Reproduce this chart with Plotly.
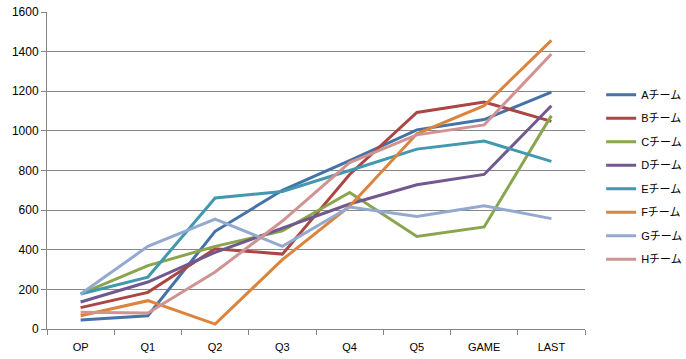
import plotly.graph_objects as go

categories = ["OP", "Q1", "Q2", "Q3", "Q4", "Q5", "GAME", "LAST"]
team_names = ["Aチーム", "Bチーム", "Cチーム", "Dチーム", "Eチーム", "Fチーム", "Gチーム", "Hチーム"]

team_a = [45, 67, 493, 700, 850, 1005, 1057, 1196]
team_b = [108, 185, 405, 378, 780, 1093, 1146, 1048]
team_c = [177, 320, 417, 495, 689, 467, 515, 1077]
team_d = [136, 237, 387, 511, 631, 728, 780, 1127]
team_e = [177, 262, 661, 694, 800, 908, 949, 846]
team_f = [67, 143, 25, 350, 620, 985, 1127, 1457]
team_g = [177, 417, 555, 417, 616, 568, 622, 557]
team_h = [84, 81, 288, 545, 840, 980, 1030, 1388]

series = [team_a, team_b, team_c, team_d, team_e, team_f, team_g, team_h]
colors = ["#4572a7", "#aa4643", "#89a54e", "#71588f", "#4198af", "#db843d", "#93a9cf", "#d19392"]

fig = go.Figure()
for name, vals, col in zip(team_names, series, colors):
    fig.add_trace(go.Scatter(
        x=categories, y=vals, name=name, mode="lines",
        line=dict(color=col, width=3), legendgroup=name,
    ))

grid = "#868686"
fig.update_layout(
    width=686, height=359,
    margin=dict(l=47, r=101, t=12, b=30, autoexpand=False),
    paper_bgcolor="white", plot_bgcolor="white",
    font=dict(family="Liberation Sans, Noto Sans CJK JP", size=11, color="#000000"),
    showlegend=True,
    legend=dict(
        x=1.03, xanchor="left", y=0.785, yanchor="top",
        font=dict(family="Liberation Sans, Noto Sans CJK JP", size=11),
        tracegroupgap=4.5, itemwidth=30, bgcolor="rgba(0,0,0,0)",
    ),
    xaxis=dict(
        type="category", showgrid=False, showline=True, linecolor=grid, linewidth=1,
        ticks="outside", tickson="boundaries", ticklen=5, tickcolor=grid,
        tickfont=dict(size=11), range=[-0.5, 7.5], automargin=False,
        ticklabelstandoff=8,
    ),
    yaxis=dict(
        range=[0, 1600], dtick=200, showgrid=True, gridcolor=grid, gridwidth=1,
        showline=True, linecolor=grid, linewidth=1, zeroline=False,
        ticks="outside", ticklen=5, tickcolor=grid, tickfont=dict(size=12),
        automargin=False,
    ),
)

fig.write_html(
    "out.html",
    config={"displayModeBar": False},
    post_script="document.body.style.margin='0';document.body.style.overflow='hidden';",
)
